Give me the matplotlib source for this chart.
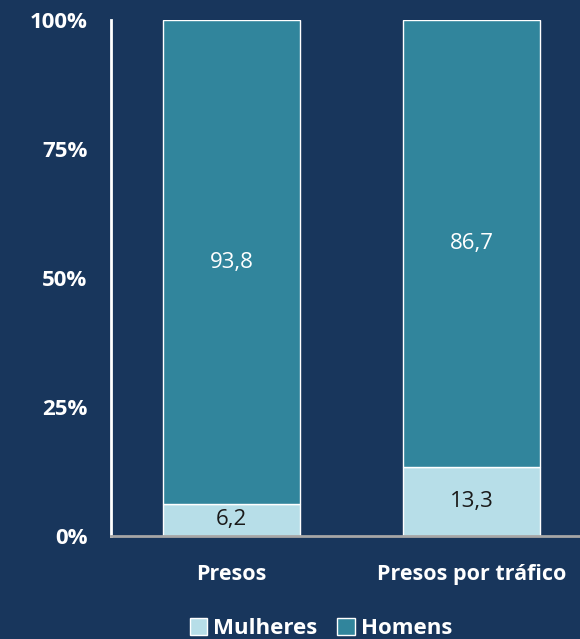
import matplotlib.pyplot as plt

categories = ['Presos', 'Presos por tráfico']
mulheres = [6.2, 13.3]
homens = [93.8, 86.7]
yticks = [0, 25, 50, 75, 100]
ytick_labels = ['0%', '25%', '50%', '75%', '100%']

bg = '#18365C'
teal = '#31859C'
light = '#B7DEE8'

plt.rcParams['font.family'] = ['Open Sans', 'DejaVu Sans']

fig = plt.figure(figsize=(5.8, 6.39), dpi=100, facecolor=bg)
ax = fig.add_axes([0.1914, 0.1612, 0.8086, 0.8075])
ax.set_facecolor(bg)

x = range(len(categories))
b1 = ax.bar(x, mulheres, width=0.57, color=light, edgecolor='white', linewidth=1, label='Mulheres')
b2 = ax.bar(x, homens, width=0.57, bottom=mulheres, color=teal, edgecolor='white', linewidth=1, label='Homens')

for i in x:
    ax.text(i, mulheres[i] / 2, str(mulheres[i]).replace('.', ','), ha='center', va='center',
            color='#1a1a1a', fontsize=16)
    ax.text(i, mulheres[i] + homens[i] / 2, str(homens[i]).replace('.', ','), ha='center', va='center',
            color='white', fontsize=16)

ax.set_xlim(-0.502, 1.452)
ax.set_ylim(0, 100)
ax.set_yticks(yticks)
ax.set_yticklabels(ytick_labels, color='white', fontsize=16, fontweight='bold')
ax.set_xticks(list(x))
ax.set_xticklabels(categories, color='white', fontsize=15.5, fontweight='bold')
ax.tick_params(axis='both', length=0)
ax.tick_params(axis='y', pad=17)
ax.tick_params(axis='x', pad=20)

for s in ['top', 'right']:
    ax.spines[s].set_visible(False)
ax.spines['left'].set_color('white')
ax.spines['left'].set_linewidth(2)
ax.spines['bottom'].set_color('#A6A6A6')
ax.spines['bottom'].set_linewidth(2)

leg = fig.legend(handles=[b1, b2], loc='center', bbox_to_anchor=(0.553, 0.017), ncol=2, frameon=False,
                 handlelength=0.8, handleheight=0.8, handletextpad=0.25, columnspacing=0.9,
                 prop={'size': 16, 'weight': 'bold'})
for t in leg.get_texts():
    t.set_color('white')

fig.savefig('out.png', dpi=100, facecolor=bg)
